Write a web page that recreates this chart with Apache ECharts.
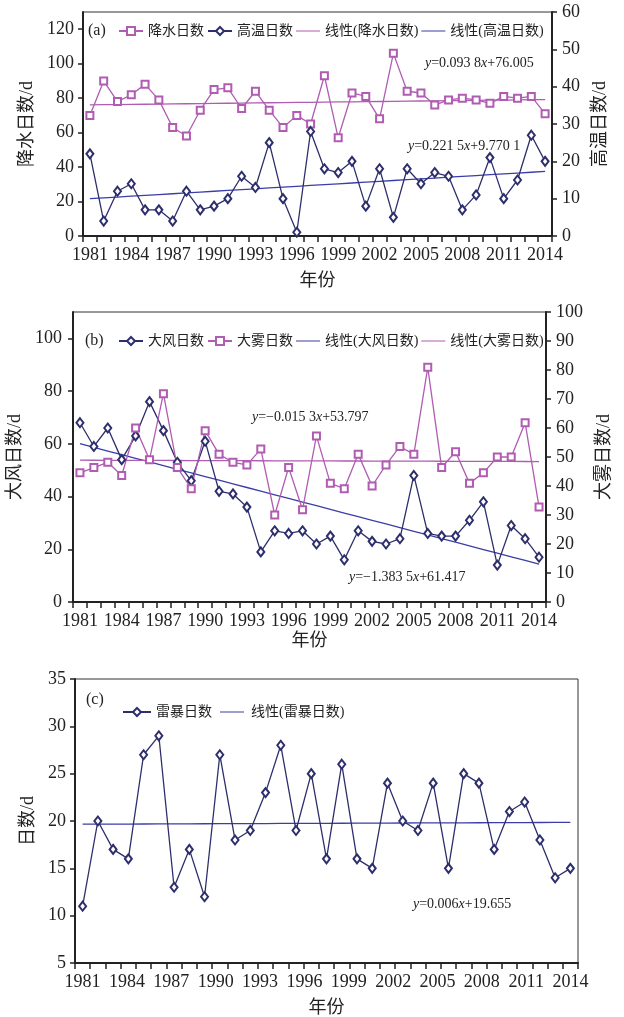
<!DOCTYPE html>
<html><head><meta charset="utf-8">
<script src="https://cdn.jsdelivr.net/npm/echarts@6/dist/echarts.min.js"></script>
<style>html,body{margin:0;padding:0;background:#fff}#c{width:624px;height:1017px}</style>
</head><body><div id="c"></div>
<script>
// ---------- data ----------
const years = ['1981','1982','1983','1984','1985','1986','1987','1988','1989','1990','1991','1992','1993','1994','1995','1996','1997','1998','1999','2000','2001','2002','2003','2004','2005','2006','2007','2008','2009','2010','2011','2012','2013','2014'];
const precipDays = [70,90,78,82,88,79,63,58,73,85,86,74,84,73,63,70,65,93,57,83,81,68,106,84,83,76,79,80,79,77,81,80,81,71];
const highTempDays = [22,4,12,14,7,7,4,12,7,8,10,16,13,25,10,1,28,18,17,20,8,18,5,18,14,17,16,7,11,21,10,15,27,20];
const windDays = [68,59,66,54,63,76,65,53,46,61,42,41,36,19,27,26,27,22,25,16,27,23,22,24,48,26,25,25,31,38,14,29,24,17];
const fogDays = [49,51,53,48,66,54,79,51,43,65,56,53,52,58,33,51,35,63,45,43,56,44,52,59,56,89,51,57,45,49,55,55,68,36];
const thunderIdx = ['1','2','3','4','5','6','7','8','9','10','11','12','13','14','15','16','17','18','19','20','21','22','23','24','25','26','27','28','29','30','31','32','33'];
const thunderDays = [11,20,17,16,27,29,13,17,12,27,18,19,23,28,19,25,16,26,16,15,24,20,19,24,15,25,24,17,21,22,18,14,15];
const tickYearsC = ['1981','1984','1987','1990','1993','1996','1999','2002','2005','2008','2011','2014'];
// trend coefficients [slope, intercept] as printed on the chart
const coefPrecip = [0.0938, 76.005];
const coefHigh = [0.2215, 9.7701];
const coefWind = [-1.3835, 61.417];
const coefFog = [-0.0153, 53.797];
const coefThunder = [0.006, 19.655];
const eqTexts = ['{i|y}=0.093 8{i|x}+76.005','{i|y}=0.221 5{i|x}+9.770 1','{i|y}=\u22120.015 3{i|x}+53.797','{i|y}=\u22121.383 5{i|x}+61.417','{i|y}=0.006{i|x}+19.655'];

// ---------- style ----------
const PURPLE = '#b05cb2', NAVY = '#2d2e6c', BLUE = '#3a3ea6', INK = '#222';
const FONT = "'Liberation Serif','Noto Sans CJK SC',serif";
const LINE_ICON = 'path://M0,0L0,0ZM0,4.4L24,4.4L24,5.6L0,5.6ZM24,10L24,10Z';
function trend(c, n){ return Array.from({length:n}, (_, i) => +(c[0]*(i+1) + c[1]).toFixed(4)); }

function yAx(grid, min, max, interval, name, gap, right, margin){
  return {type:'value', gridIndex:grid, min, max, interval, position: right?'right':'left',
    name, nameLocation:'middle', nameGap:gap, nameRotate:90,
    nameTextStyle:{fontSize:18, color:INK, fontFamily:FONT},
    axisLine:{show:true, lineStyle:{color:INK, width:2}},
    axisTick:{show:true, inside:false, length:5, lineStyle:{color:INK, width:1.5}},
    splitLine:{show:false},
    axisLabel:{fontSize:18, color:INK, fontFamily:FONT, margin, showMaxLabel: (max % interval === 0)}};
}
function xAx(grid, data, gap){
  return {type:'category', gridIndex:grid, data, boundaryGap:true,
    name:'年份', nameLocation:'middle', nameGap:gap,
    nameTextStyle:{fontSize:18, color:INK, fontFamily:FONT},
    axisLine:{show:true, lineStyle:{color:INK, width:2}},
    axisTick:{show:true, alignWithLabel:false, interval:0, length:6, lineStyle:{color:INK, width:1.5}},
    axisLabel:{interval:2, fontSize:18, color:INK, fontFamily:FONT, margin:10}};
}
function dataSeries(name, data, xi, yi, sym, color){
  return {name, type:'line', data, xAxisIndex:xi, yAxisIndex:yi, symbol:sym,
    symbolSize: sym==='emptyRect'?7:[7,9], showSymbol:true,
    lineStyle:{color, width:1.3}, itemStyle:{color, borderColor:color, borderWidth:1.3}, z:3, animation:false};
}
function trendSeries(name, data, xi, yi, color){
  return {name, type:'line', data, xAxisIndex:xi, yAxisIndex:yi, symbol:'none',
    lineStyle:{color, width:1.3}, itemStyle:{color}, z:2, animation:false};
}
function eq(text, left, top){
  return {text, left, top, padding:0, textStyle:{fontSize:14, fontWeight:'normal', color:INK, fontFamily:FONT,
    rich:{i:{fontStyle:'italic', fontSize:14, color:INK, fontFamily:FONT}}}};
}
function tag(text, left, top){
  return {text, left, top, padding:0, textStyle:{fontSize:16, fontWeight:'normal', color:INK, fontFamily:FONT}};
}
function leg(names, trendNames, left, top, itemWidth, itemGap){
  const data = names.map(n => trendNames.indexOf(n) >= 0 ? {name:n, icon:LINE_ICON} : {name:n});
  return {data, left, top, itemWidth, itemHeight:10, itemGap, padding:5,
    textStyle:{fontSize:14, color:INK, fontFamily:FONT}};
}

const gridStyle = {show:true, borderColor:'#333', borderWidth:1, backgroundColor:'transparent', outerBoundsMode:'none', containLabel:false};

const option = {
  animation:false,
  textStyle:{fontFamily:FONT},
  title:[
    tag('(a)', 88, 23), tag('(b)', 85, 333), tag('(c)', 86, 692),
    eq(eqTexts[0], 425, 56), eq(eqTexts[1], 408, 139),
    eq(eqTexts[2], 252, 410), eq(eqTexts[3], 349, 570),
    eq(eqTexts[4], 413, 897)
  ],
  legend:[
    leg(['降水日数','高温日数','线性(降水日数)','线性(高温日数)'], ['线性(降水日数)','线性(高温日数)'], 113, 19, 24, 3),
    leg(['大风日数','大雾日数','线性(大风日数)','线性(大雾日数)'], ['线性(大风日数)','线性(大雾日数)'], 113, 329, 24, 3),
    leg(['雷暴日数','线性(雷暴日数)'], ['线性(雷暴日数)'], 117, 700, 28, 8)
  ],
  grid:[
    Object.assign({left:83, top:12, width:469, height:224}, gridStyle),
    Object.assign({left:73, top:312, width:473, height:290}, gridStyle),
    Object.assign({left:75, top:679, width:503, height:284}, gridStyle),
    {left:82.6, top:679, width:488, height:284, show:false, outerBoundsMode:'none', containLabel:false}
  ],
  xAxis:[
    xAx(0, years, 36), xAx(1, years, 30),
    Object.assign(xAx(2, thunderIdx, 36), {axisLabel:{show:false}}),
    {type:'category', gridIndex:3, data:tickYearsC, boundaryGap:false,
     axisLine:{show:false}, axisTick:{show:false},
     axisLabel:{interval:0, fontSize:18, color:INK, fontFamily:FONT, margin:10}}
  ],
  yAxis:[
    yAx(0, 0, 130, 20, '降水日数/d', 46, false, 9),
    yAx(0, 0, 60, 10, '高温日数/d', 39, true, 10),
    yAx(1, 0, 110, 20, '大风日数/d', 44, false, 11),
    yAx(1, 0, 100, 10, '大雾日数/d', 49, true, 10),
    yAx(2, 5, 35, 5, '日数/d', 38, false, 9),
    {type:'value', gridIndex:3, min:0, max:1, show:false}
  ],
  series:[
    dataSeries('降水日数', precipDays, 0, 0, 'emptyRect', PURPLE),
    dataSeries('高温日数', highTempDays, 0, 1, 'emptyDiamond', NAVY),
    trendSeries('线性(降水日数)', trend(coefPrecip, years.length), 0, 0, PURPLE),
    trendSeries('线性(高温日数)', trend(coefHigh, years.length), 0, 1, BLUE),
    dataSeries('大风日数', windDays, 1, 2, 'emptyDiamond', NAVY),
    dataSeries('大雾日数', fogDays, 1, 2, 'emptyRect', PURPLE),
    trendSeries('线性(大风日数)', trend(coefWind, years.length), 1, 2, BLUE),
    trendSeries('线性(大雾日数)', trend(coefFog, years.length), 1, 2, PURPLE),
    dataSeries('雷暴日数', thunderDays, 2, 4, 'emptyDiamond', NAVY),
    trendSeries('线性(雷暴日数)', trend(coefThunder, thunderDays.length), 2, 4, BLUE)
  ]
};
const chart = echarts.init(document.getElementById('c'), null, {renderer:'canvas'});
chart.setOption(option);
</script></body></html>
